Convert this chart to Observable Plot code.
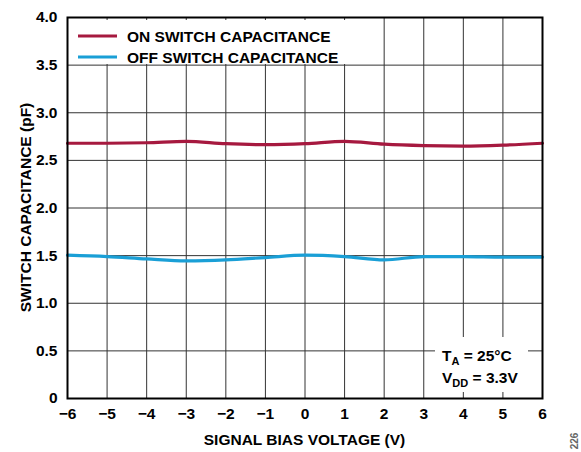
<!DOCTYPE html>
<html>
<head>
<meta charset="utf-8">
<script src="https://cdn.jsdelivr.net/npm/d3@7"></script>
<script src="https://cdn.jsdelivr.net/npm/@observablehq/plot@0.6"></script>
<style>
  html, body { margin: 0; padding: 0; background: #fff; }
  #chart svg { display: block; }
</style>
</head>
<body>
<div id="chart"></div>
<script>
const voltages = [-6, -5, -4, -3, -2, -1, 0, 1, 2, 3, 4, 5, 6];
const onCap  = [2.68, 2.68, 2.685, 2.70, 2.675, 2.665, 2.675, 2.70, 2.67, 2.655, 2.65, 2.66, 2.68];
const offCap = [1.505, 1.49, 1.465, 1.445, 1.455, 1.48, 1.505, 1.49, 1.455, 1.49, 1.49, 1.485, 1.485];
const seriesNames = ["ON SWITCH CAPACITANCE", "OFF SWITCH CAPACITANCE"];
const seriesColors = ["#a6193f", "#1a9fd6"];
const xTicks = [-6, -5, -4, -3, -2, -1, 0, 1, 2, 3, 4, 5, 6];
const yTicks = [0, 0.5, 1.0, 1.5, 2.0, 2.5, 3.0, 3.5, 4.0];
const xLabel = "SIGNAL BIAS VOLTAGE (V)";
const yLabel = "SWITCH CAPACITANCE (pF)";

const data = [];
voltages.forEach((v, i) => {
  data.push({v, c: onCap[i], s: seriesNames[0]});
  data.push({v, c: offCap[i], s: seriesNames[1]});
});

const W = 581, H = 452;
const mL = 67, mR = 39, mT = 17, mB = 54;
const FS = 15.5;
const fmtX = d => d < 0 ? "\u2212" + Math.abs(d) : String(d);
const fmtY = d => d === 0 ? "0" : d.toFixed(1);

const plot = Plot.plot({
  width: W, height: H,
  marginLeft: mL, marginRight: mR, marginTop: mT, marginBottom: mB,
  style: {fontFamily: "'Liberation Sans', Arial, sans-serif", fontSize: FS + "px", fontWeight: "bold", color: "#000", background: "#fff"},
  x: {domain: [-6, 6], label: null},
  y: {domain: [0, 4], label: null},
  color: {domain: seriesNames, range: seriesColors},
  marks: [
    Plot.gridX(xTicks, {stroke: "#333", strokeOpacity: 1, strokeWidth: 1}),
    Plot.gridY(yTicks, {stroke: "#333", strokeOpacity: 1, strokeWidth: 1}),
    Plot.line(data, {x: "v", y: "c", z: "s", stroke: "s", strokeWidth: 3.2, curve: "monotone-x"}),
    Plot.frame({stroke: "#000", strokeWidth: 2}),
    Plot.axisX({ticks: xTicks, tickSize: 0, tickPadding: 9, label: null, tickFormat: fmtX}),
    Plot.axisY({ticks: yTicks, tickSize: 0, tickPadding: 10, label: null, tickFormat: fmtY})
  ]
});

document.getElementById("chart").appendChild(plot);
const svg = d3.select(plot);
const ff = "'Liberation Sans', Arial, sans-serif";

// Axis titles
svg.append("text")
  .attr("x", mL + (W - mL - mR) / 2).attr("y", 445)
  .attr("text-anchor", "middle").attr("font-family", ff).attr("font-weight", "bold").attr("font-size", FS)
  .text(xLabel);
svg.append("text")
  .attr("transform", `translate(31,${mT + (H - mT - mB) / 2}) rotate(-90)`)
  .attr("text-anchor", "middle").attr("font-family", ff).attr("font-weight", "bold").attr("font-size", FS)
  .text(yLabel);

// Legend
const lg = svg.append("g").attr("text-anchor", "start");
lg.append("rect").attr("x", 75).attr("y", 20).attr("width", 272).attr("height", 44).attr("fill", "#fff");
seriesNames.forEach((n, i) => {
  const yy = 36 + i * 21;
  lg.append("line").attr("x1", 78).attr("x2", 117).attr("y1", yy).attr("y2", yy)
    .attr("stroke", seriesColors[i]).attr("stroke-width", 3.2);
  lg.append("text").attr("x", 127).attr("y", yy + 5.5).attr("text-anchor", "start").attr("font-family", ff).attr("font-weight", "bold")
    .attr("font-size", FS).text(n);
});

// Conditions annotation
const an = svg.append("g").attr("text-anchor", "start");
an.append("rect").attr("x", 435).attr("y", 337).attr("width", 93).attr("height", 55).attr("fill", "#fff");
const t1 = an.append("text").attr("x", 442).attr("y", 361).attr("text-anchor", "start").attr("font-family", ff).attr("font-weight", "bold").attr("font-size", FS);
t1.append("tspan").text("T");
t1.append("tspan").attr("font-size", 11).attr("dy", 4).text("A");
t1.append("tspan").attr("dy", -4).text(" = 25°C");
const t2 = an.append("text").attr("x", 442).attr("y", 383).attr("text-anchor", "start").attr("font-family", ff).attr("font-weight", "bold").attr("font-size", FS);
t2.append("tspan").text("V");
t2.append("tspan").attr("font-size", 11).attr("dy", 4).text("DD");
t2.append("tspan").attr("dy", -4).text(" = 3.3V");

// Figure number
svg.append("text")
  .attr("transform", "translate(578,441) rotate(-90)")
  .attr("text-anchor", "middle").attr("font-family", ff).attr("font-size", 10).attr("fill", "#666")
  .text("226");
</script>
</body>
</html>
